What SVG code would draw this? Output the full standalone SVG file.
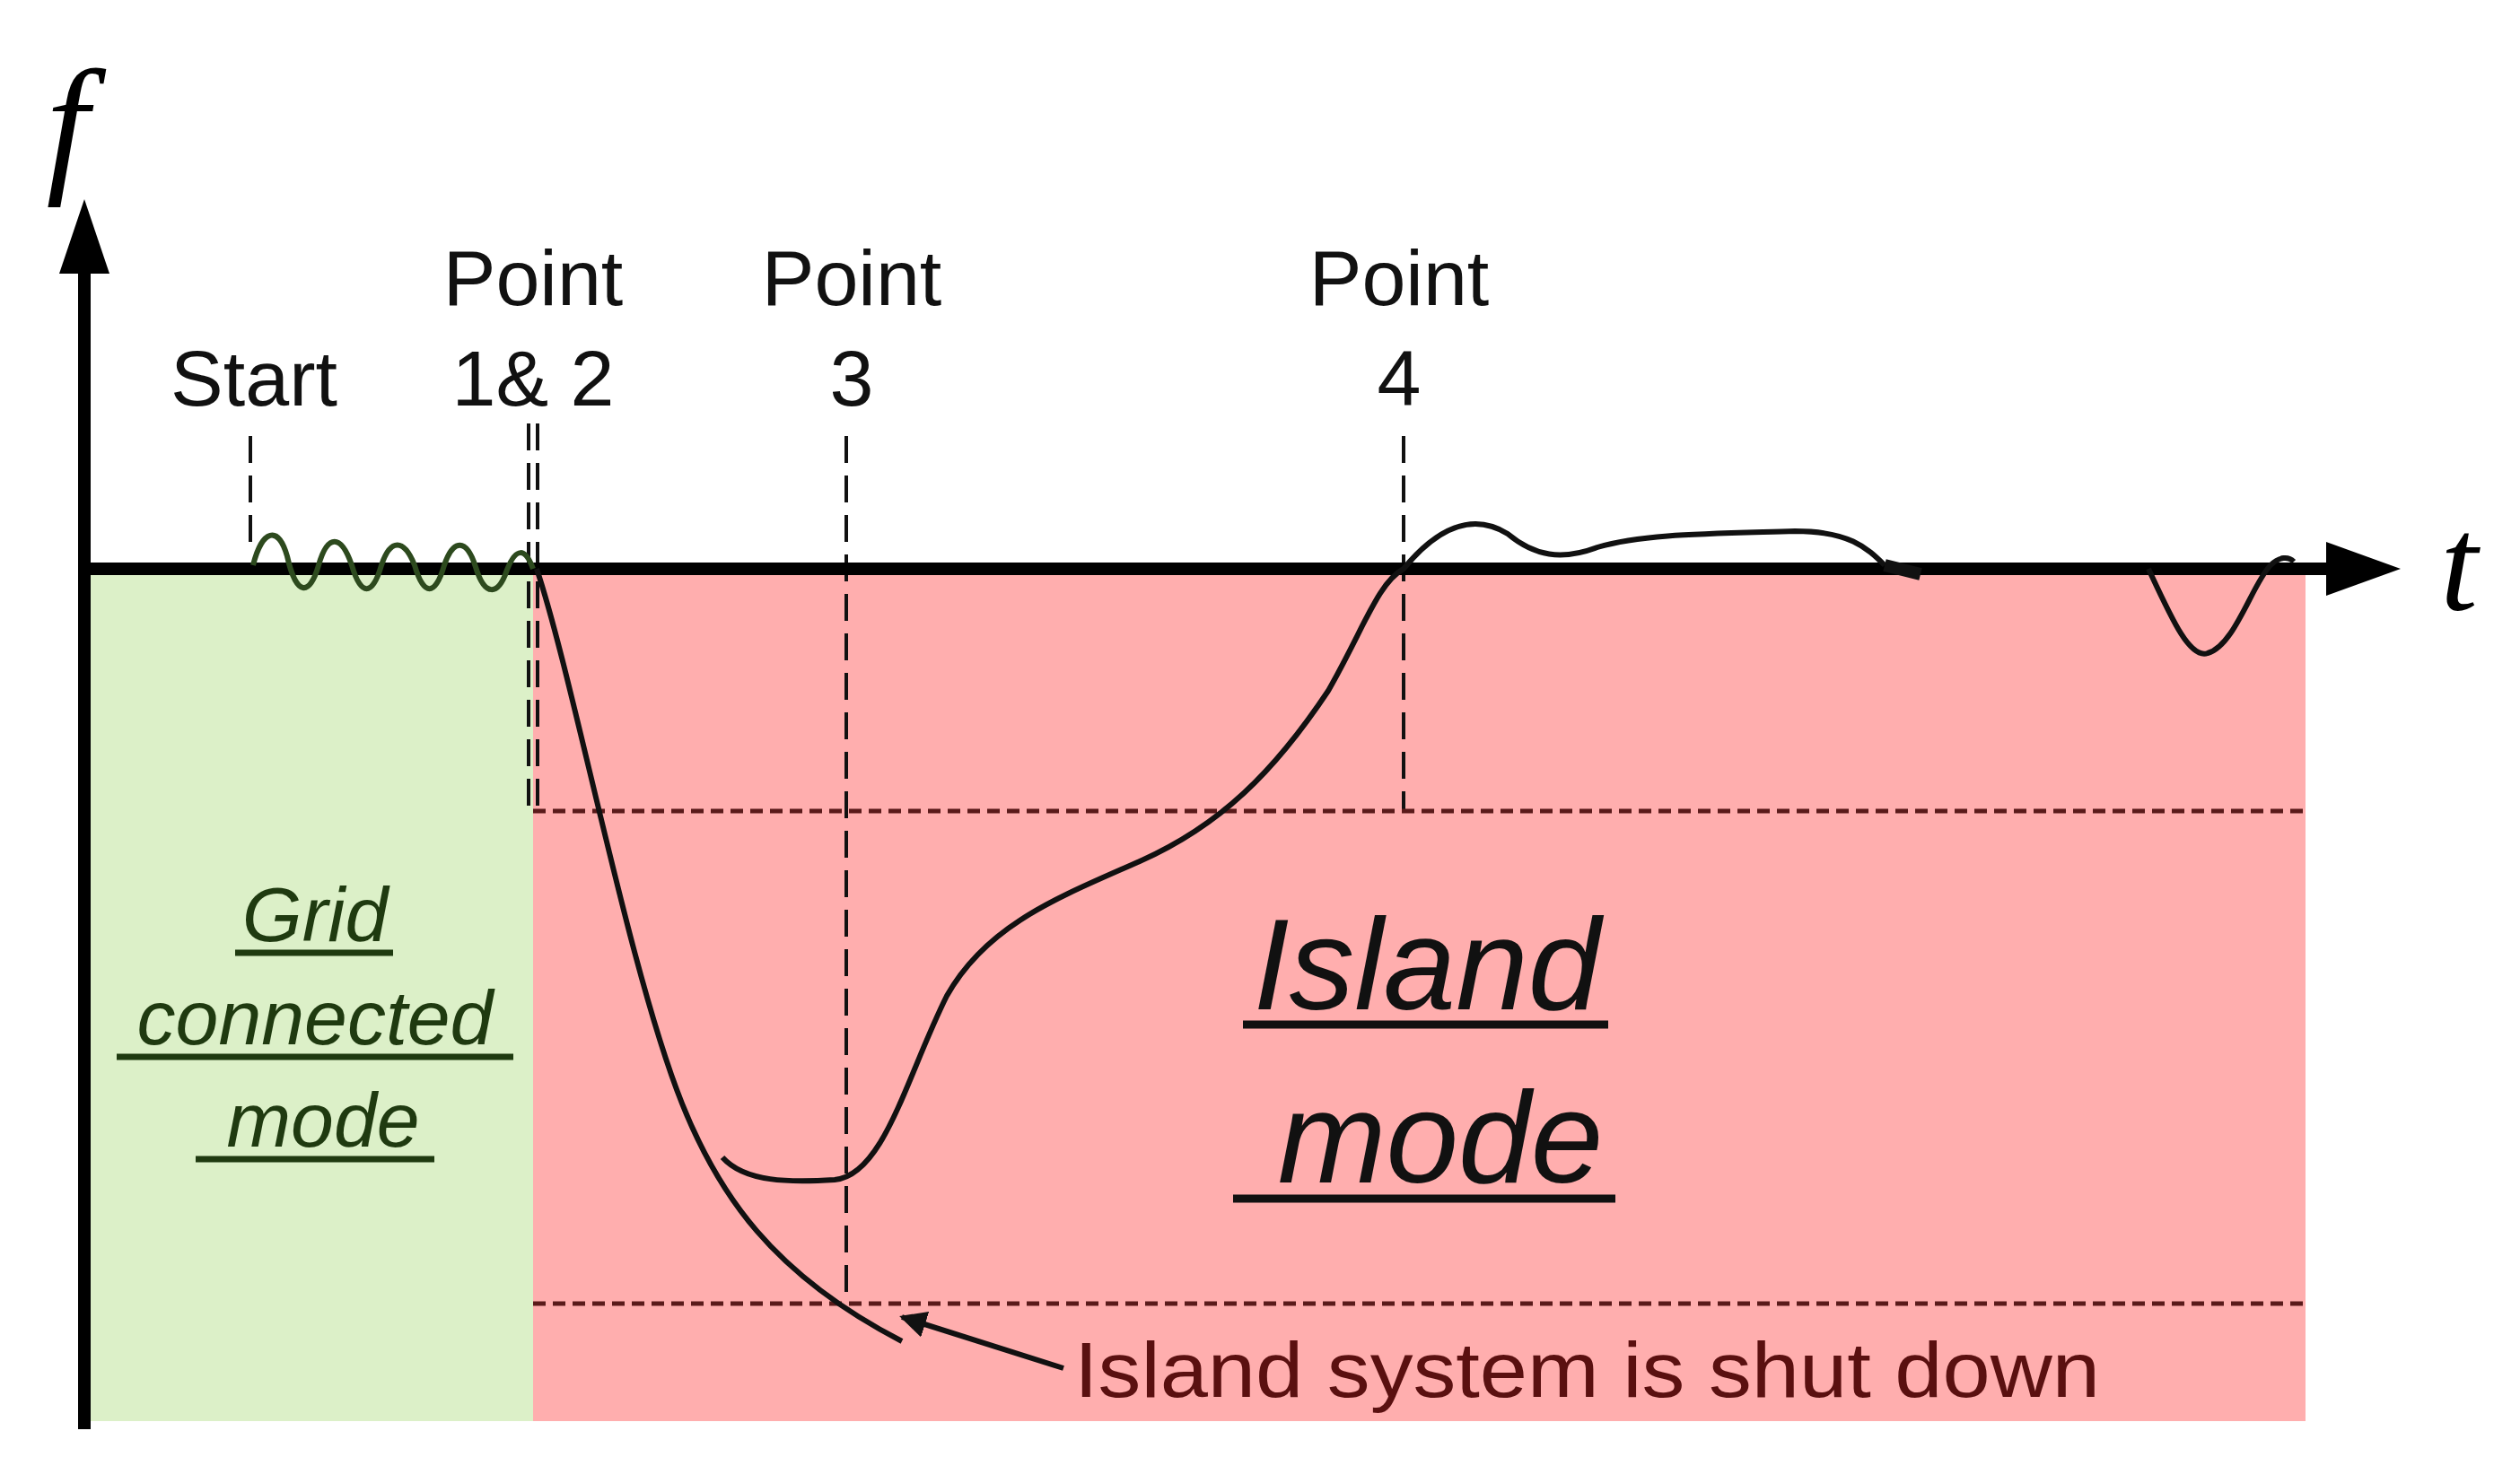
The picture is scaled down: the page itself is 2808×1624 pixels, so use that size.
<svg xmlns="http://www.w3.org/2000/svg" width="2808" height="1624" viewBox="0 0 2808 1624">
<style>
.lbl{font-family:"Liberation Sans",Arial,sans-serif;font-size:88px;fill:#111;text-anchor:middle}
.grid{font-family:"Liberation Sans",Arial,sans-serif;font-style:italic;font-size:86px;fill:#1f3a10;text-anchor:middle}
.isl{font-family:"Liberation Sans",Arial,sans-serif;font-style:italic;font-size:145px;fill:#111;text-anchor:middle}
.dash{stroke:#111;stroke-width:4;stroke-dasharray:30 14;fill:none}
.hd{stroke:#5a1a1a;stroke-width:5;stroke-dasharray:14 8;fill:none}
.curve{stroke:#111;stroke-width:6;fill:none}
</style>
<defs>
<marker id="ah" viewBox="0 0 10 10" refX="9" refY="5" markerWidth="5" markerHeight="5" orient="auto" markerUnits="strokeWidth"><path d="M0,0 L10,5 L0,10 z" fill="#111"/></marker>
</defs>
<rect width="2808" height="1624" fill="#fff"/>
<g id="regions">
<rect x="99" y="639" width="495" height="945" fill="#dcf0c8"/>
<rect x="594" y="639" width="1975" height="945" fill="#ffaeae"/>
</g>
<g id="guides">
<line class="dash" x1="279" y1="486" x2="279" y2="610"/>
<line class="dash" x1="589" y1="472" x2="589" y2="900"/>
<line class="dash" x1="599" y1="472" x2="599" y2="900"/>
<line class="dash" x1="943" y1="486" x2="943" y2="1454"/>
<line class="dash" x1="1564" y1="486" x2="1564" y2="904"/>
<line class="hd" x1="594" y1="904" x2="2569" y2="904"/>
<line class="hd" x1="594" y1="1453" x2="2569" y2="1453"/>
</g>
<g id="axes">
<line x1="94" y1="1593" x2="94" y2="300" stroke="#000" stroke-width="14"/>
<polygon points="94,222 66,305 122,305" fill="#000"/>
<line x1="94" y1="634" x2="2600" y2="634" stroke="#000" stroke-width="14"/>
<polygon points="2675,634 2592,604 2592,664" fill="#000"/>
<text x="75" y="195" font-family="Liberation Serif,serif" font-style="italic" font-size="170" fill="#000" text-anchor="middle">f</text>
<text x="2740" y="680" font-family="Liberation Serif,serif" font-style="italic" font-size="150" fill="#000" text-anchor="middle">t</text>
</g>
<g id="connectors">
<path d="M282,630 C292,590 310,585 320,620 C330,665 345,665 355,630 C365,595 380,595 392,630 C402,665 415,665 425,630 C435,600 450,600 462,630 C472,665 485,665 495,630 C505,600 520,600 530,632 C540,665 555,665 565,635 C575,610 585,610 594,634" stroke="#2d4a1e" stroke-width="6" fill="none"/>
<path class="curve" d="M598,634 C640,760 700,1080 760,1230 C800,1330 860,1420 1005,1495"/>
<path class="curve" d="M805,1290 C830,1318 880,1318 930,1315 C985,1310 1010,1200 1055,1110 C1100,1030 1180,1000 1270,960 C1360,920 1420,860 1480,770 C1520,700 1535,650 1564,634 C1600,590 1640,570 1680,595 C1710,620 1740,625 1780,610 C1830,595 1900,595 2000,592 C2060,592 2080,610 2100,630"/>
<path d="M2100,630 L2140,640" stroke="#111" stroke-width="14"/>
<path class="curve" d="M2394,634 C2420,690 2440,735 2460,728 C2490,720 2510,650 2530,630 C2540,620 2550,620 2556,626"/>
<line x1="1185" y1="1525" x2="1005" y2="1468" stroke="#111" stroke-width="6" marker-end="url(#ah)"/>
</g>
<g id="labels">
<text class="lbl" x="283" y="452">Start</text>
<text class="lbl" x="594" y="340">Point</text>
<text class="lbl" x="594" y="452">1&amp; 2</text>
<text class="lbl" x="949" y="340">Point</text>
<text class="lbl" x="949" y="452">3</text>
<text class="lbl" x="1559" y="340">Point</text>
<text class="lbl" x="1559" y="452">4</text>
<text x="1197" y="1557" font-family="Liberation Sans,Arial,sans-serif" font-size="88" fill="#5a1010" textLength="1143" lengthAdjust="spacingAndGlyphs">Island system is shut down</text>
</g>
<g id="grid-label">
<text class="grid" x="351" y="1049">Grid</text>
<line x1="262" y1="1062" x2="438" y2="1062" stroke="#1f3a10" stroke-width="7"/>
<text class="grid" x="351" y="1164">connected</text>
<line x1="130" y1="1178" x2="572" y2="1178" stroke="#1f3a10" stroke-width="7"/>
<text class="grid" x="360" y="1278">mode</text>
<line x1="218" y1="1292" x2="484" y2="1292" stroke="#1f3a10" stroke-width="7"/>
</g>
<g id="island-label">
<text class="isl" x="1590" y="1125">Island</text>
<line x1="1385" y1="1142" x2="1792" y2="1142" stroke="#111" stroke-width="9"/>
<text class="isl" x="1605" y="1318">mode</text>
<line x1="1374" y1="1336" x2="1800" y2="1336" stroke="#111" stroke-width="9"/>
</g>
</svg>
